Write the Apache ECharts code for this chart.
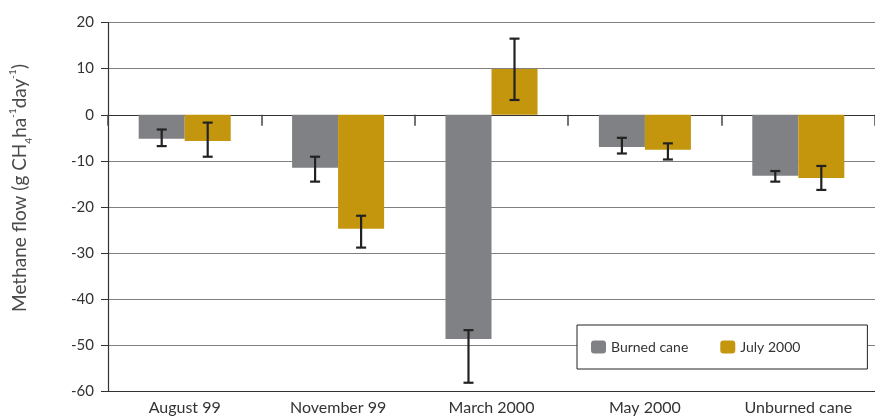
<!DOCTYPE html>
<html>
<head>
<meta charset="utf-8">
<script src="https://cdn.jsdelivr.net/npm/echarts@6/dist/echarts.min.js"></script>
<style>html,body{margin:0;padding:0;background:#fff}#c{width:875px;height:416px}</style>
</head>
<body>
<div id="c"></div>
<script>
const categories = ['August 99', 'November 99', 'March 2000', 'May 2000', 'Unburned cane'];
const burned = [-5.2, -11.5, -48.6, -7.0, -13.2];
const burnedLow = [-6.8, -14.5, -58.1, -8.4, -14.5];
const burnedHigh = [-3.2, -9.1, -46.7, -5.0, -12.2];
const july = [-5.7, -24.7, 9.9, -7.6, -13.7];
const julyLow = [-9.1, -28.8, 3.2, -9.7, -16.3];
const julyHigh = [-1.7, -21.9, 16.5, -6.2, -11.1];
const yTicks = { min: -60, max: 20, interval: 10 };

const GRAY = '#808184', GOLD = '#c4960e';
const FONT = 'Lato';

function errRows(lo, hi) { return lo.map((l, i) => [i, l, hi[i]]); }
function errRender(offsetFrac) {
  return function (params, api) {
    const i = api.value(0);
    const band = api.size([1, 0])[0];
    const pLo = api.coord([i, api.value(1)]);
    const pHi = api.coord([i, api.value(2)]);
    const x = pLo[0] + offsetFrac * band;
    const cw = 5;
    const st = { stroke: '#222', lineWidth: 2.2 };
    return {
      type: 'group',
      children: [
        { type: 'line', shape: { x1: x, y1: pLo[1], x2: x, y2: pHi[1] }, style: st },
        { type: 'line', shape: { x1: x - cw, y1: pLo[1], x2: x + cw, y2: pLo[1] }, style: st },
        { type: 'line', shape: { x1: x - cw, y1: pHi[1], x2: x + cw, y2: pHi[1] }, style: st }
      ]
    };
  };
}

const chart = echarts.init(document.getElementById('c'), null, { renderer: 'canvas' });
chart.setOption({
  animation: false,
  backgroundColor: '#fff',
  textStyle: { fontFamily: FONT },
  grid: { left: 102, right: -12, top: 22.5, bottom: 24.5, containLabel: false },
  legend: {
    left: 577, top: 325,
    padding: [15, 67, 15, 14],
    itemWidth: 15, itemHeight: 13, itemGap: 32,
    borderColor: '#222', borderWidth: 1, backgroundColor: '#fff',
    textStyle: { fontFamily: FONT, fontSize: 14, color: '#333' },
    data: ['Burned cane', 'July 2000']
  },
  xAxis: [
    {
      type: 'category', data: categories, position: 'bottom',
      axisLine: { onZero: false, lineStyle: { color: '#333', width: 1.2 } },
      axisTick: { show: false },
      axisLabel: { fontFamily: FONT, fontSize: 16, color: '#333', margin: 8 }
    },
    {
      type: 'category', data: categories, position: 'top',
      axisLine: { onZero: true, lineStyle: { color: '#333', width: 1.2 } },
      axisTick: { show: true, inside: true, length: 11, lineStyle: { color: '#444', width: 1.5 } },
      axisLabel: { show: false }
    }
  ],
  yAxis: {
    type: 'value', min: yTicks.min, max: yTicks.max, interval: yTicks.interval,
    name: '{t|Methane flow (g CH}{sub|4}{t|ha}{sup|-1}{t|day}{sup|-1}{t|)}',
    nameLocation: 'middle', nameGap: 76, nameRotate: 90,
    nameTextStyle: {
      padding: [0, 0, 0, 38],
      rich: {
        t: { fontFamily: FONT, fontSize: 19, color: '#4a4a4a', lineHeight: 24, verticalAlign: 'middle' },
        sub: { fontFamily: FONT, fontSize: 10, color: '#4a4a4a', lineHeight: 24, verticalAlign: 'bottom', padding: [0, 0, -2, 0] },
        sup: { fontFamily: FONT, fontSize: 10, color: '#4a4a4a', lineHeight: 24, verticalAlign: 'top' }
      }
    },
    axisLine: { show: true, lineStyle: { color: '#333', width: 1.2 } },
    axisTick: { show: true, length: 7, lineStyle: { color: '#333' } },
    axisLabel: { fontFamily: FONT, fontSize: 15, color: '#333', margin: 14 },
    splitLine: { show: true, lineStyle: { color: '#808080', width: 1.2 } }
  },
  series: [
    { name: 'Burned cane', type: 'bar', data: burned, itemStyle: { color: GRAY }, barGap: '0%', barCategoryGap: '40%' },
    { name: 'July 2000', type: 'bar', data: july, itemStyle: { color: GOLD }, barGap: '0%', barCategoryGap: '40%' },
    { type: 'custom', data: errRows(burnedLow, burnedHigh), renderItem: errRender(-0.15), encode: { x: 0, y: [1, 2] }, z: 5, silent: true },
    { type: 'custom', data: errRows(julyLow, julyHigh), renderItem: errRender(0.15), encode: { x: 0, y: [1, 2] }, z: 5, silent: true }
  ]
});
</script>
</body>
</html>
